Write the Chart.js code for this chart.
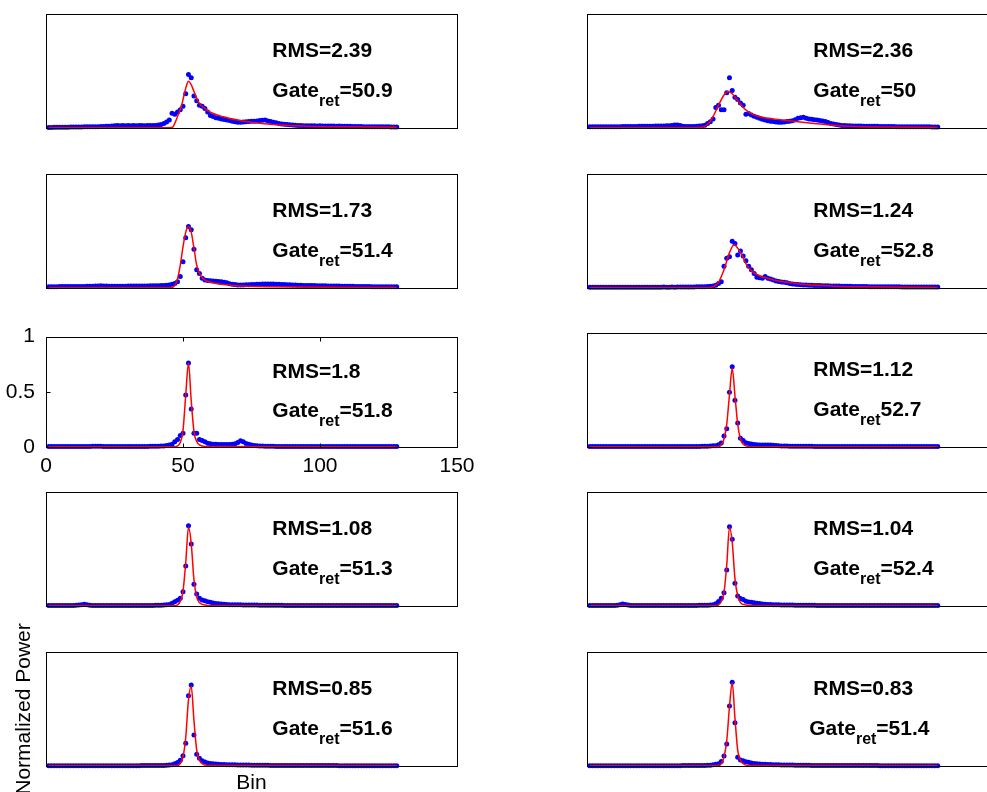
<!DOCTYPE html>
<html lang="en">
<head>
  <meta charset="UTF-8">
  <title>Normalized Power per Bin</title>
  <style>
    body {
      margin: 0;
      width: 987px;
      height: 792px;
      overflow: hidden;
      position: relative;
      background: #fff;
    }
    .panel {
      position: absolute;
      width: 487px;
    }
  </style>
</head>
<body>

  <script src="https://cdn.jsdelivr.net/npm/chart.js"></script>
  <script>
    // Bin numbers shared by every waveform
    const bins = Array.from({ length: 128 }, (_, i) => i + 1);

    // Measured waveforms (blue dots), one per panel
    const dots1 = [
      0.005,0.005,0.006,0.006,0.006,0.007,0.007,0.007,0.008,0.008,
      0.008,0.009,0.009,0.010,0.010,0.010,0.011,0.012,0.012,0.013,
      0.014,0.015,0.016,0.018,0.020,0.021,0.020,0.022,0.020,0.021,
      0.020,0.021,0.020,0.022,0.021,0.020,0.021,0.022,0.022,0.023,
      0.026,0.030,0.040,0.052,0.070,0.130,0.120,0.140,0.160,0.190,
      0.300,0.470,0.440,0.280,0.240,0.200,0.190,0.170,0.140,0.110,
      0.100,0.090,0.085,0.080,0.075,0.070,0.065,0.060,0.055,0.050,
      0.050,0.052,0.055,0.058,0.060,0.060,0.062,0.065,0.068,0.070,
      0.062,0.056,0.050,0.045,0.040,0.036,0.033,0.030,0.028,0.026,
      0.024,0.022,0.021,0.020,0.020,0.019,0.020,0.019,0.018,0.019,
      0.018,0.018,0.017,0.018,0.017,0.016,0.017,0.016,0.015,0.015,
      0.015,0.014,0.014,0.013,0.013,0.012,0.012,0.012,0.011,0.011,
      0.011,0.010,0.010,0.010,0.010,0.009,0.009,0.009
    ];
    const dots2 = [
      0.010,0.010,0.011,0.010,0.011,0.011,0.012,0.011,0.012,0.012,
      0.012,0.012,0.013,0.013,0.013,0.014,0.014,0.014,0.015,0.015,
      0.015,0.016,0.016,0.016,0.017,0.017,0.018,0.018,0.019,0.020,
      0.022,0.026,0.027,0.022,0.016,0.014,0.013,0.013,0.014,0.015,
      0.017,0.020,0.025,0.040,0.055,0.080,0.180,0.200,0.160,0.160,
      0.310,0.440,0.330,0.270,0.250,0.220,0.200,0.120,0.128,0.115,
      0.104,0.094,0.085,0.076,0.070,0.064,0.060,0.056,0.053,0.050,
      0.050,0.052,0.056,0.060,0.064,0.072,0.085,0.090,0.094,0.086,
      0.080,0.076,0.073,0.070,0.066,0.062,0.056,0.048,0.040,0.035,
      0.030,0.026,0.023,0.021,0.020,0.019,0.018,0.018,0.017,0.017,
      0.016,0.016,0.016,0.015,0.015,0.015,0.014,0.014,0.014,0.013,
      0.013,0.013,0.012,0.012,0.012,0.012,0.011,0.011,0.011,0.011,
      0.010,0.010,0.010,0.010,0.010,0.009,0.009,0.009
    ];
    const dots3 = [
      0.012,0.012,0.012,0.012,0.013,0.013,0.013,0.013,0.013,0.014,
      0.014,0.014,0.014,0.014,0.015,0.015,0.016,0.017,0.018,0.019,
      0.018,0.017,0.016,0.016,0.016,0.016,0.016,0.016,0.016,0.017,
      0.017,0.017,0.017,0.017,0.018,0.018,0.018,0.019,0.019,0.020,
      0.020,0.021,0.022,0.024,0.027,0.032,0.040,0.055,0.100,0.230,
      0.440,0.540,0.510,0.340,0.160,0.128,0.085,0.070,0.066,0.064,
      0.062,0.060,0.058,0.054,0.050,0.045,0.038,0.033,0.030,0.027,
      0.026,0.027,0.028,0.029,0.030,0.031,0.032,0.033,0.034,0.034,
      0.035,0.035,0.034,0.033,0.032,0.031,0.030,0.029,0.028,0.027,
      0.026,0.025,0.024,0.023,0.023,0.022,0.022,0.021,0.020,0.020,
      0.019,0.019,0.018,0.018,0.018,0.017,0.017,0.016,0.016,0.015,
      0.015,0.015,0.014,0.014,0.014,0.013,0.013,0.013,0.012,0.012,
      0.012,0.012,0.011,0.011,0.011,0.011,0.010,0.010
    ];
    const dots4 = [
      0.006,0.006,0.007,0.006,0.006,0.007,0.006,0.006,0.007,0.006,
      0.006,0.007,0.006,0.007,0.007,0.006,0.007,0.007,0.006,0.007,
      0.007,0.007,0.007,0.006,0.007,0.007,0.007,0.008,0.007,0.007,
      0.008,0.007,0.008,0.008,0.008,0.008,0.009,0.009,0.009,0.010,
      0.010,0.011,0.012,0.013,0.015,0.018,0.025,0.040,0.055,0.190,
      0.260,0.275,0.410,0.390,0.290,0.325,0.280,0.240,0.190,0.160,
      0.128,0.094,0.090,0.085,0.100,0.085,0.078,0.070,0.062,0.056,
      0.053,0.050,0.045,0.040,0.035,0.033,0.031,0.029,0.027,0.026,
      0.025,0.024,0.023,0.022,0.021,0.020,0.020,0.019,0.018,0.018,
      0.017,0.017,0.016,0.016,0.015,0.015,0.014,0.014,0.014,0.013,
      0.013,0.013,0.012,0.012,0.012,0.011,0.011,0.011,0.011,0.010,
      0.010,0.010,0.010,0.010,0.009,0.009,0.009,0.009,0.009,0.008,
      0.008,0.008,0.008,0.008,0.008,0.008,0.008,0.008
    ];
    const dots5 = [
      0.004,0.004,0.004,0.004,0.004,0.004,0.004,0.004,0.004,0.004,
      0.004,0.004,0.004,0.005,0.005,0.005,0.006,0.006,0.006,0.006,
      0.005,0.005,0.005,0.005,0.005,0.005,0.005,0.005,0.005,0.005,
      0.005,0.005,0.005,0.005,0.005,0.005,0.005,0.006,0.006,0.006,
      0.007,0.008,0.010,0.014,0.018,0.025,0.047,0.067,0.105,0.125,
      0.470,0.760,0.345,0.125,0.125,0.067,0.060,0.047,0.035,0.030,
      0.026,0.024,0.023,0.023,0.023,0.022,0.023,0.025,0.030,0.040,
      0.056,0.047,0.032,0.024,0.018,0.014,0.011,0.009,0.008,0.007,
      0.006,0.006,0.006,0.005,0.005,0.005,0.005,0.005,0.005,0.005,
      0.005,0.005,0.005,0.005,0.005,0.005,0.005,0.005,0.005,0.005,
      0.004,0.004,0.004,0.004,0.004,0.004,0.004,0.004,0.004,0.004,
      0.004,0.004,0.004,0.004,0.004,0.004,0.004,0.004,0.004,0.004,
      0.004,0.004,0.004,0.004,0.004,0.004,0.004,0.004
    ];
    const dots6 = [
      0.004,0.004,0.004,0.004,0.004,0.004,0.004,0.004,0.004,0.004,
      0.004,0.004,0.004,0.004,0.004,0.004,0.004,0.004,0.004,0.004,
      0.004,0.004,0.004,0.004,0.004,0.004,0.004,0.004,0.004,0.004,
      0.004,0.004,0.004,0.005,0.005,0.005,0.005,0.005,0.005,0.005,
      0.005,0.006,0.006,0.007,0.008,0.010,0.012,0.020,0.035,0.096,
      0.160,0.480,0.705,0.410,0.210,0.076,0.056,0.038,0.030,0.026,
      0.022,0.020,0.018,0.017,0.017,0.018,0.018,0.016,0.013,0.011,
      0.009,0.008,0.008,0.007,0.007,0.007,0.006,0.006,0.006,0.006,
      0.006,0.006,0.005,0.005,0.005,0.005,0.005,0.005,0.005,0.005,
      0.005,0.005,0.005,0.005,0.005,0.005,0.005,0.005,0.005,0.005,
      0.004,0.004,0.004,0.004,0.004,0.004,0.004,0.004,0.004,0.004,
      0.004,0.004,0.004,0.004,0.004,0.004,0.004,0.004,0.004,0.004,
      0.004,0.004,0.004,0.004,0.004,0.004,0.004,0.004
    ];
    const dots7 = [
      0.004,0.004,0.004,0.004,0.004,0.004,0.004,0.004,0.004,0.005,
      0.006,0.008,0.012,0.015,0.010,0.006,0.005,0.004,0.004,0.004,
      0.004,0.004,0.004,0.004,0.004,0.004,0.004,0.004,0.004,0.004,
      0.004,0.004,0.004,0.005,0.005,0.005,0.005,0.005,0.005,0.006,
      0.006,0.007,0.008,0.010,0.014,0.025,0.038,0.050,0.067,0.126,
      0.350,0.705,0.544,0.190,0.105,0.067,0.053,0.045,0.038,0.032,
      0.027,0.023,0.020,0.018,0.016,0.014,0.012,0.011,0.011,0.010,
      0.010,0.009,0.009,0.009,0.008,0.008,0.008,0.007,0.007,0.007,
      0.006,0.006,0.006,0.006,0.006,0.006,0.005,0.005,0.005,0.005,
      0.005,0.005,0.005,0.005,0.005,0.005,0.005,0.005,0.005,0.005,
      0.004,0.004,0.004,0.004,0.004,0.004,0.004,0.004,0.004,0.004,
      0.004,0.004,0.004,0.004,0.004,0.004,0.004,0.004,0.004,0.004,
      0.004,0.004,0.004,0.004,0.004,0.004,0.004,0.004
    ];
    const dots8 = [
      0.004,0.004,0.004,0.004,0.004,0.004,0.004,0.004,0.004,0.005,
      0.007,0.012,0.017,0.014,0.008,0.005,0.004,0.004,0.004,0.004,
      0.004,0.004,0.004,0.004,0.004,0.004,0.004,0.004,0.004,0.004,
      0.004,0.004,0.004,0.004,0.005,0.005,0.005,0.005,0.005,0.005,
      0.006,0.006,0.007,0.007,0.008,0.012,0.020,0.040,0.067,0.117,
      0.316,0.696,0.585,0.200,0.088,0.065,0.058,0.042,0.036,0.032,
      0.029,0.025,0.021,0.018,0.016,0.014,0.013,0.012,0.011,0.010,
      0.009,0.009,0.008,0.008,0.008,0.007,0.007,0.007,0.006,0.006,
      0.006,0.006,0.006,0.005,0.005,0.005,0.005,0.005,0.005,0.005,
      0.005,0.005,0.005,0.005,0.005,0.005,0.005,0.005,0.005,0.005,
      0.004,0.004,0.004,0.004,0.004,0.004,0.004,0.004,0.004,0.004,
      0.004,0.004,0.004,0.004,0.004,0.004,0.004,0.004,0.004,0.004,
      0.004,0.004,0.004,0.004,0.004,0.004,0.004,0.004
    ];
    const dots9 = [
      0.003,0.003,0.003,0.003,0.003,0.003,0.003,0.003,0.003,0.003,
      0.003,0.003,0.003,0.003,0.003,0.003,0.003,0.003,0.003,0.003,
      0.003,0.003,0.003,0.003,0.003,0.003,0.003,0.003,0.003,0.003,
      0.003,0.003,0.003,0.003,0.004,0.004,0.004,0.004,0.004,0.004,
      0.004,0.005,0.005,0.006,0.008,0.012,0.020,0.030,0.050,0.090,
      0.200,0.617,0.710,0.272,0.102,0.067,0.045,0.035,0.026,0.022,
      0.019,0.017,0.015,0.014,0.013,0.012,0.011,0.010,0.010,0.009,
      0.009,0.008,0.008,0.008,0.007,0.007,0.007,0.006,0.006,0.006,
      0.006,0.005,0.005,0.005,0.005,0.005,0.005,0.005,0.004,0.004,
      0.004,0.004,0.004,0.004,0.004,0.004,0.004,0.004,0.004,0.004,
      0.004,0.004,0.004,0.004,0.004,0.004,0.003,0.003,0.003,0.003,
      0.003,0.003,0.003,0.003,0.003,0.003,0.003,0.003,0.003,0.003,
      0.003,0.003,0.003,0.003,0.003,0.003,0.003,0.003
    ];
    const dots10 = [
      0.003,0.003,0.003,0.003,0.003,0.003,0.003,0.003,0.003,0.003,
      0.003,0.003,0.003,0.003,0.003,0.003,0.003,0.003,0.003,0.003,
      0.003,0.003,0.003,0.003,0.003,0.003,0.003,0.003,0.003,0.003,
      0.003,0.003,0.003,0.003,0.004,0.004,0.004,0.004,0.004,0.004,
      0.004,0.005,0.005,0.006,0.007,0.010,0.015,0.020,0.040,0.088,
      0.193,0.526,0.734,0.380,0.076,0.053,0.045,0.038,0.032,0.027,
      0.023,0.020,0.018,0.016,0.015,0.014,0.013,0.012,0.011,0.010,
      0.009,0.009,0.008,0.008,0.008,0.007,0.007,0.007,0.006,0.006,
      0.006,0.005,0.005,0.005,0.005,0.005,0.005,0.005,0.004,0.004,
      0.004,0.004,0.004,0.004,0.004,0.004,0.004,0.004,0.004,0.004,
      0.004,0.004,0.004,0.004,0.004,0.004,0.003,0.003,0.003,0.003,
      0.003,0.003,0.003,0.003,0.003,0.003,0.003,0.003,0.003,0.003,
      0.003,0.003,0.003,0.003,0.003,0.003,0.003,0.003
    ];

    // Fitted model (red line), [bin, power] pairs
    const fit1 = [[1,0.003],[44,0.003],[46,0.004],[47,0.04],[48,0.1],[49.5,0.2],[51,0.35],[52,0.41],[53,0.38],[54,0.32],[55.6,0.23],[58.6,0.16],[64.7,0.098],[70.8,0.066],[83,0.03],[95,0.016],[110,0.01],[128,0.007]];
    const fit2 = [[1,0.003],[40,0.003],[42,0.006],[44,0.03],[46,0.1],[48,0.2],[50,0.29],[51.5,0.32],[53,0.3],[55,0.24],[57,0.18],[59,0.14],[61,0.115],[64,0.095],[68,0.08],[72,0.068],[77,0.055],[82,0.042],[87,0.03],[92,0.02],[100,0.012],[110,0.008],[128,0.005]];
    const fit3 = [[1,0.002],[45,0.002],[46.5,0.01],[48,0.08],[49,0.2],[50,0.36],[51,0.49],[52,0.54],[53,0.49],[54,0.35],[55,0.2],[56,0.13],[57,0.09],[58,0.07],[60,0.05],[63,0.035],[67,0.025],[72,0.018],[80,0.012],[90,0.008],[128,0.004]];
    const fit4 = [[1,0.003],[44,0.003],[46,0.01],[48,0.05],[50,0.16],[52,0.31],[53.7,0.38],[55,0.35],[56.5,0.29],[58.3,0.2],[60,0.15],[63.2,0.105],[67,0.078],[70.4,0.06],[75,0.045],[82,0.026],[90,0.016],[100,0.01],[128,0.005]];
    const fit5 = [[1,0.002],[47,0.002],[48,0.01],[49,0.04],[50,0.15],[51,0.47],[52,0.76],[53,0.42],[54,0.14],[55,0.05],[56,0.02],[58,0.005],[128,0.002]];
    const fit6 = [[1,0.002],[47,0.002],[48,0.006],[49,0.02],[50,0.07],[51,0.2],[52,0.46],[53,0.69],[54,0.45],[55,0.2],[56,0.07],[57,0.025],[58,0.01],[60,0.003],[128,0.002]];
    const fit7 = [[1,0.002],[47,0.002],[48,0.01],[49,0.04],[50,0.13],[51,0.38],[52,0.69],[53,0.55],[54,0.23],[55,0.08],[56,0.03],[58,0.008],[60,0.003],[128,0.002]];
    const fit8 = [[1,0.002],[47,0.002],[48,0.01],[49,0.04],[50,0.12],[51,0.36],[52,0.69],[53,0.56],[54,0.24],[55,0.09],[56,0.03],[58,0.008],[60,0.003],[128,0.002]];
    const fit9 = [[1,0.002],[48,0.002],[49,0.02],[50,0.08],[51,0.25],[52,0.58],[53,0.7],[54,0.4],[55,0.14],[56,0.05],[57,0.02],[59,0.005],[128,0.002]];
    const fit10 = [[1,0.002],[47,0.002],[48,0.006],[49,0.02],[50,0.08],[51,0.22],[52,0.52],[53,0.73],[54,0.42],[55,0.14],[56,0.05],[57,0.02],[59,0.005],[128,0.002]];

    // Annotation values per panel
    const rmsValues = ['2.39', '2.36', '1.73', '1.24', '1.8', '1.12', '1.08', '1.04', '0.85', '0.83'];
    const gateValues = ['=50.9', '=50', '=51.4', '=52.8', '=51.8', '52.7', '=51.3', '=52.4', '=51.6', '=51.4'];

    // Axis ticks for the one panel that shows them
    const xTicks = [0, 50, 100, 150];
    const yTicks = [0, 0.5, 1];

    const allDots = [dots1, dots2, dots3, dots4, dots5, dots6, dots7, dots8, dots9, dots10];
    const allFits = [fit1, fit2, fit3, fit4, fit5, fit6, fit7, fit8, fit9, fit10];

    const FONT = '"Liberation Sans", Arial, Helvetica, sans-serif';
    Chart.defaults.font.family = FONT;
    Chart.defaults.color = '#000';

    // Box around each plot area, inward ticks and the RMS / Gate labels
    const framePlugin = {
      id: 'frame',
      afterDraw(chart, args, opts) {
        const { ctx, chartArea: a, scales } = chart;
        const xs = scales.x, ys = scales.y;
        const l = Math.round(a.left) + 0.5, t = Math.round(a.top) + 0.5;
        const r = Math.round(a.right) + 0.5, b = Math.round(a.bottom) + 0.5;
        ctx.save();
        ctx.strokeStyle = '#000';
        ctx.lineWidth = 1;
        ctx.strokeRect(l, t, r - l, b - t);

        if (opts.ticks) {
          ctx.beginPath();
          xTicks.slice(1, -1).forEach(v => {
            const px = Math.round(xs.getPixelForValue(v)) + 0.5;
            ctx.moveTo(px, b); ctx.lineTo(px, b - 4);
            ctx.moveTo(px, t); ctx.lineTo(px, t + 4);
          });
          yTicks.slice(1, -1).forEach(v => {
            const py = Math.round(ys.getPixelForValue(v)) + 0.5;
            ctx.moveTo(l, py); ctx.lineTo(l + 4, py);
            ctx.moveTo(r, py); ctx.lineTo(r - 4, py);
          });
          ctx.stroke();
        }

        ctx.fillStyle = '#000';
        ctx.textAlign = 'left';
        ctx.textBaseline = 'alphabetic';
        ctx.font = 'bold 21px ' + FONT;
        const rx = xs.getPixelForValue(82.6);
        ctx.fillText('RMS=' + opts.rms, rx, ys.getPixelForValue(0.625));

        const gx = xs.getPixelForValue(opts.gateX);
        const gy = ys.getPixelForValue(0.27);
        ctx.fillText('Gate', gx, gy);
        const w1 = ctx.measureText('Gate').width;
        ctx.font = 'bold 16px ' + FONT;
        ctx.fillText('ret', gx + w1, gy + 9);
        const w2 = ctx.measureText('ret').width;
        ctx.font = 'bold 21px ' + FONT;
        ctx.fillText(opts.gate, gx + w1 + w2, gy);
        ctx.restore();
      }
    };

    // Plot-area tops for the five rows, left edges of the two columns
    const rowTops = [14, 174, 333, 492, 652];
    const colLefts = [46, 587];

    function makePanel(i) {
      const row = Math.floor(i / 2), col = i % 2;
      const showTicks = (i === 4);
      const showTitles = (i === 8);
      // the bottom-left panel needs room above for its long y title
      const padTop = showTitles ? 40 : 20;

      const div = document.createElement('div');
      div.className = 'panel';
      div.style.left = (colLefts[col] - 46) + 'px';
      div.style.top = (rowTops[row] - padTop) + 'px';
      const canvas = document.createElement('canvas');
      canvas.width = 487;
      canvas.height = 144 + padTop;
      div.appendChild(canvas);
      document.body.appendChild(div);

      const tickFont = { size: 21, family: FONT };

      new Chart(canvas.getContext('2d'), {
        type: 'scatter',
        data: {
          datasets: [{
            label: 'Fit',
            data: allFits[i].map(p => ({ x: p[0], y: p[1] })),
            showLine: true,
            borderColor: '#ff0000',
            borderWidth: 1.5,
            pointRadius: 0,
            cubicInterpolationMode: 'monotone',
            clip: false,
            order: 0
          }, {
            label: 'Waveform',
            data: bins.map((b, k) => ({ x: b, y: allDots[i][k] })),
            pointRadius: 2.5,
            pointBackgroundColor: '#0000ff',
            pointBorderWidth: 0,
            clip: false,
            order: 1
          }]
        },
        options: {
          responsive: false,
          animation: false,
          events: [],
          layout: { padding: { left: 0, top: padTop, right: 30, bottom: 0 }, autoPadding: false },
          plugins: {
            legend: { display: false },
            tooltip: { enabled: false },
            frame: {
              rms: rmsValues[i],
              gate: gateValues[i],
              gateX: i === 9 ? 81.1 : 82.6,
              ticks: showTicks
            }
          },
          scales: {
            x: {
              type: 'linear',
              min: 0,
              max: 150,
              grid: { display: false, drawTicks: false },
              border: { display: false },
              ticks: {
                display: showTicks,
                stepSize: 50,
                maxRotation: 0,
                padding: 7,
                font: tickFont
              },
              title: {
                display: showTitles,
                text: 'Bin',
                font: tickFont,
                padding: { top: 0, bottom: 0 }
              },
              afterFit(s) { s.height = 30; }
            },
            y: {
              min: 0,
              max: 1,
              grid: { display: false, drawTicks: false },
              border: { display: false },
              ticks: {
                display: showTicks,
                stepSize: 0.5,
                padding: 11,
                font: tickFont,
                callback: v => String(v)
              },
              title: {
                display: showTitles,
                text: 'Normalized Power',
                font: tickFont,
                padding: { top: 12, bottom: 0 }
              },
              afterFit(s) { s.width = 46; }
            }
          }
        },
        plugins: [framePlugin]
      });
    }

    window.onload = function () {
      for (let i = 0; i < 10; i++) makePanel(i);
    };
  </script>
</body>
</html>
